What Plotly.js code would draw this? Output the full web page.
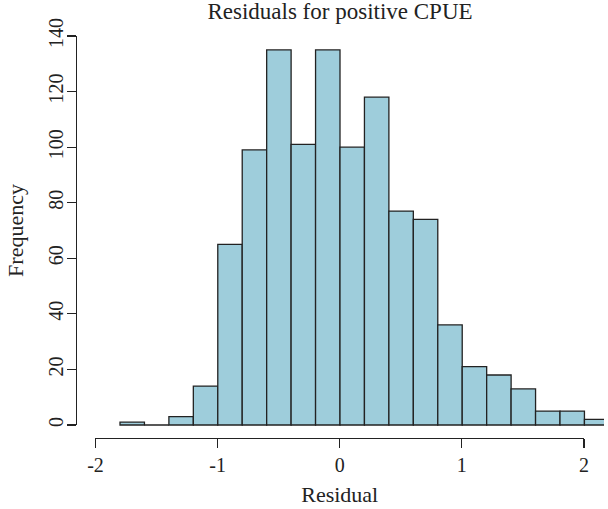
<!DOCTYPE html>
<html>
<head>
<meta charset="utf-8">
<script src="https://cdn.plot.ly/plotly-3.0.1.min.js"></script>
<style>html,body{margin:0;padding:0;background:#fff;}#chart{width:608px;height:509px;}</style>
</head>
<body>
<div id="chart"></div>
<script>
// Histogram bins (left edges, width 0.2) and counts
const binLeft = [-1.8, -1.6, -1.4, -1.2, -1.0, -0.8, -0.6, -0.4, -0.2, 0.0,
                 0.2, 0.4, 0.6, 0.8, 1.0, 1.2, 1.4, 1.6, 1.8, 2.0];
const counts  = [1, 0, 3, 14, 65, 99, 135, 101, 135, 100,
                 118, 77, 74, 36, 21, 18, 13, 5, 5, 2];
const binWidth = 0.2;

const xTickVals = [-2, -1, 0, 1, 2];
const xTickText = ["-2", "-1", "0", "1", "2"];
const yTickVals = [0, 20, 40, 60, 80, 100, 120, 140];
const yTickText = ["0", "20", "40", "60", "80", "100", "120", "140"];

const FONT = "Liberation Serif, Times New Roman, serif";
const INK = "#222222";

const bars = {
  type: "bar",
  x: binLeft,
  y: counts,
  width: binLeft.map(() => binWidth),
  offset: 0,
  marker: { color: "#9ECDDB", line: { color: INK, width: 1.3 } },
  xaxis: "x", yaxis: "y",
  hoverinfo: "x+y",
  showlegend: false
};

const axesHolder = {
  type: "scatter", mode: "markers", x: [], y: [],
  xaxis: "x2", yaxis: "y2", showlegend: false, hoverinfo: "skip"
};

const layout = {
  width: 608, height: 509,
  margin: { l: 76, r: 4, t: 20, b: 71 },
  paper_bgcolor: "#ffffff", plot_bgcolor: "rgba(0,0,0,0)",
  font: { family: FONT, color: INK, size: 20 },
  showlegend: false,
  bargap: 0,
  title: {
    text: "Residuals for positive CPUE",
    font: { family: FONT, size: 23, color: INK },
    x: 0.5, xref: "paper", xanchor: "center",
    y: 1, yref: "container", yanchor: "top", pad: { t: 3 }
  },
  xaxis: { range: [-2.16, 2.16], domain: [0, 1], visible: false, fixedrange: true },
  yaxis: { range: [-4.68, 145.76], domain: [0, 1], visible: false, fixedrange: true },
  xaxis2: {
    range: [-2, 2], domain: [0.0369, 0.9621], anchor: "free", position: 0,
    showline: true, linecolor: INK, linewidth: 1.2,
    ticks: "outside", ticklen: 9, tickwidth: 1.2, tickcolor: INK,
    tickvals: xTickVals, ticktext: xTickText, showgrid: false, zeroline: false,
    tickfont: { family: FONT, size: 20, color: INK },
    title: { text: "Residual", font: { family: FONT, size: 22, color: INK }, standoff: 11 },
    automargin: false
  },
  yaxis2: {
    range: [0, 140], domain: [0.0311, 0.9617], anchor: "free", position: 0,
    showline: true, linecolor: INK, linewidth: 1.2,
    ticks: "outside", ticklen: 9, tickwidth: 1.2, tickcolor: INK,
    tickvals: yTickVals, ticktext: yTickText, tickangle: -90,
    ticklabelstandoff: -4,
    showgrid: false, zeroline: false,
    tickfont: { family: FONT, size: 20, color: INK },
    title: { text: "Frequency", font: { family: FONT, size: 22, color: INK }, standoff: 14 },
    automargin: false
  }
};

Plotly.newPlot("chart", [bars, axesHolder], layout, { displayModeBar: false, staticPlot: true });
</script>
</body>
</html>
